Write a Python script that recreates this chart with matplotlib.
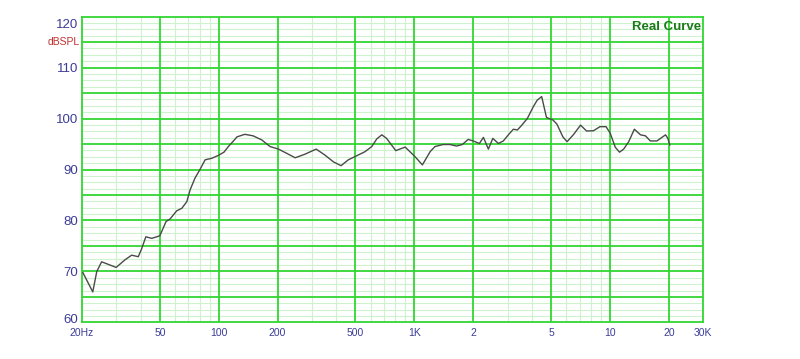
import numpy as np
import matplotlib.pyplot as plt
import matplotlib.transforms as mtransforms
from matplotlib.ticker import FixedLocator, NullFormatter

# frequency response (Hz, dBSPL)
freq = [20.2, 22.7, 23.8, 25.2, 29.9, 33.2, 35.9, 38.8, 40.4, 42.4, 45.5, 50,
        53.8, 56.4, 61, 64.8, 68.7, 71.4, 75.6, 80.2, 85.2, 92.2, 100, 106.4,
        112, 119, 124, 136, 150, 166, 183, 202, 222, 246, 276, 315, 350, 386,
        422, 460, 508, 560, 606, 643, 682, 722, 804, 898, 1010, 1100, 1205,
        1276, 1402, 1520, 1646, 1760, 1886, 2000, 2152, 2256, 2392, 2520, 2692,
        2852, 3026, 3210, 3366, 3546, 3784, 4058, 4252, 4480, 4740, 5120, 5360,
        5750, 6040, 6500, 7080, 7600, 8240, 8900, 9560, 10040, 10660, 11200,
        11760, 12480, 13340, 14340, 15200, 16100, 17400, 19260, 19780, 20240]
spl = [69.8, 66.0, 70.0, 71.9, 70.8, 72.3, 73.2, 72.9, 74.5, 76.8, 76.5, 77.0,
       79.8, 80.3, 81.9, 82.4, 83.7, 86.0, 88.3, 90.0, 91.9, 92.2, 92.8, 93.4,
       94.5, 95.6, 96.4, 96.9, 96.6, 95.8, 94.5, 94.0, 93.2, 92.3, 93.0, 94.0,
       92.8, 91.5, 90.75, 91.9, 92.7, 93.5, 94.5, 96.0, 96.8, 96.1, 93.7, 94.4,
       92.5, 90.9, 93.5, 94.5, 94.9, 94.9, 94.6, 94.9, 95.9, 95.6, 95.1, 96.3,
       94.0, 96.1, 95.1, 95.6, 96.8, 97.9, 97.75, 98.7, 100.0, 102.3, 103.6,
       104.3, 100.2, 99.7, 98.9, 96.4, 95.45, 96.8, 98.7, 97.55, 97.6, 98.4,
       98.4, 97.1, 94.35, 93.4, 94.0, 95.45, 97.9, 96.8, 96.6, 95.6, 95.6,
       96.8, 96.1, 94.8]

x_ticks = [20, 50, 100, 200, 500, 1000, 2000, 5000, 10000, 20000, 30000]
x_labels = ['20Hz', '50', '100', '200', '500', '1K', '2', '5', '10', '20', '30K']
y_ticks = [60, 70, 80, 90, 100, 110, 120]

major = '#33d633'
minor = '#cdf2cd'
label_blue = '#3c3c96'

fig = plt.figure(figsize=(8, 3.59), dpi=100)
ax = fig.add_axes([0.1025, 0.1017, 0.7765, 0.8523])
ax.set_xscale('log')
ax.set_xlim(20, 30000)
ax.set_ylim(60, 120)

# grid
minor_x = [m * d for d in [10, 100, 1000, 10000] for m in range(2, 10)]
minor_x = [v for v in minor_x if 20 < v < 30000 and v not in x_ticks]
for v in minor_x:
    ax.axvline(v, color=minor, lw=0.8, zorder=1)
for v in np.arange(60, 120, 1.25):
    if v % 5:
        ax.axhline(v, color=minor, lw=0.8, zorder=1)
for v in x_ticks[1:-1]:
    ax.axvline(v, color=major, lw=1.3, zorder=2)
for v in range(65, 120, 5):
    ax.axhline(v, color=major, lw=1.3, zorder=2)

ax.plot(freq, spl, color='#4a4a4a', lw=1.0, zorder=3)

ax.xaxis.set_major_locator(FixedLocator(x_ticks))
ax.xaxis.set_minor_formatter(NullFormatter())
ax.xaxis.set_minor_locator(FixedLocator([]))
ax.set_xticklabels(x_labels, fontsize=7.5, color=label_blue, family='Liberation Sans')
ax.set_yticks(y_ticks)
ax.set_yticklabels([str(v) for v in y_ticks], fontsize=9.5, color=label_blue,
                   family='Liberation Sans')
ax.tick_params(axis='both', length=0)
ax.tick_params(axis='x', pad=4)
ax.tick_params(axis='y', pad=3)
for s in ax.spines.values():
    s.set_color(major)
    s.set_linewidth(1.3)

# end labels sit inside the frame like in the original
ylabs = ax.get_yticklabels()
ylabs[-1].set_transform(ylabs[-1].get_transform() +
                        mtransforms.ScaledTranslation(0, -7 / 100, fig.dpi_scale_trans))
ylabs[0].set_transform(ylabs[0].get_transform() +
                       mtransforms.ScaledTranslation(0, 4 / 100, fig.dpi_scale_trans))

ax.text(-0.003, 115, 'dBSPL', transform=ax.get_yaxis_transform(), ha='right',
        va='center', fontsize=7.5, color='#c03030', family='Liberation Sans')
ax.text(0.997, 0.965, 'Real Curve', transform=ax.transAxes, ha='right', va='center',
        fontsize=9.5, fontweight='bold', color='#1a7a1a', family='Liberation Sans')

fig.savefig('out.png', dpi=100)
